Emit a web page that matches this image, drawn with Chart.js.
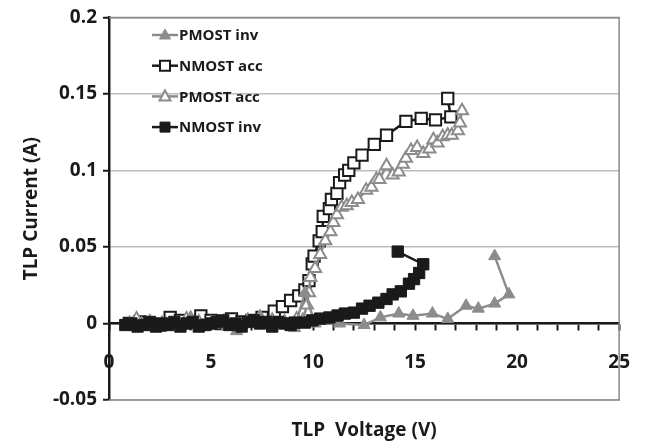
<!DOCTYPE html>
<html>
<head>
<meta charset="utf-8">
<script src="https://cdn.jsdelivr.net/npm/chart.js@4.4.0/dist/chart.umd.min.js"></script>
<style>
  html, body { margin: 0; padding: 0; background: #fff; }
</style>
</head>
<body>
<canvas id="tlpChart" width="652" height="448"></canvas>
<script>
// tick labels
const xTicks = [0, 5, 10, 15, 20, 25];
const yTicks = [-0.05, 0, 0.05, 0.1, 0.15, 0.2];

// PMOST inv (grey filled triangles)
const pmosInvV = [1.0, 1.6, 2.2, 2.8, 3.4, 4.0, 4.6, 5.2, 5.8, 6.25, 6.8, 7.4, 8.0, 8.6, 9.1, 9.6, 10.1, 11.3, 12.5, 13.3, 14.2, 14.9, 15.85, 16.6, 17.5, 18.1, 18.9, 19.6, 18.9];
const pmosInvI = [-0.001, 0.0, -0.002, 0.0, -0.001, 0.004, -0.001, 0.0, -0.002, -0.005, 0.0, 0.003, -0.001, 0.0, -0.003, 0.02, 0.0, 0.0, -0.001, 0.004, 0.0065, 0.005, 0.0065, 0.003, 0.0116, 0.0097, 0.013, 0.019, 0.044];

// NMOST acc (black open squares)
const nmosAccV = [1.0, 1.5, 2.0, 2.5, 3.0, 3.5, 4.0, 4.5, 5.0, 5.5, 6.0, 6.5, 7.0, 7.5, 8.1, 8.5, 8.9, 9.3, 9.6, 9.8, 9.96, 10.05, 10.3, 10.45, 10.5, 10.8, 10.9, 11.17, 11.3, 11.55, 11.75, 12.0, 12.4, 13.0, 13.6, 14.55, 15.3, 16.0, 16.75, 16.6];
const nmosAccI = [0.0, 0.001, 0.0, -0.001, 0.004, 0.002, 0.001, 0.005, 0.002, 0.0, 0.003, 0.001, 0.002, 0.004, 0.008, 0.011, 0.015, 0.018, 0.022, 0.028, 0.039, 0.044, 0.054, 0.06, 0.07, 0.075, 0.081, 0.085, 0.092, 0.097, 0.1, 0.105, 0.11, 0.117, 0.123, 0.132, 0.134, 0.133, 0.135, 0.147];

// PMOST acc (grey open triangles)
const pmosAccV = [1.0, 1.35, 2.0, 2.6, 3.2, 3.8, 4.4, 5.0, 5.6, 6.2, 6.8, 7.4, 8.0, 8.6, 9.2, 9.5, 9.7, 9.8, 9.87, 10.1, 10.35, 10.6, 10.85, 11.0, 11.17, 11.4, 11.65, 11.9, 12.2, 12.6, 12.86, 13.1, 13.25, 13.6, 13.9, 14.2, 14.4, 14.55, 14.8, 15.1, 15.4, 15.7, 15.9, 16.1, 16.35, 16.6, 16.8, 17.1, 17.2, 17.3];
const pmosAccI = [0.0, 0.003, 0.001, 0.0, -0.001, 0.003, 0.001, 0.0, 0.001, -0.001, 0.002, 0.004, 0.002, 0.001, 0.003, 0.002, 0.012, 0.02, 0.03, 0.036, 0.045, 0.054, 0.06, 0.066, 0.071, 0.076, 0.077, 0.079, 0.081, 0.087, 0.089, 0.094, 0.094, 0.103, 0.097, 0.099, 0.104, 0.108, 0.113, 0.115, 0.111, 0.114, 0.12, 0.118, 0.122, 0.123, 0.123, 0.126, 0.131, 0.139];

// NMOST inv (black filled squares)
const nmosInvV = [0.8, 1.1, 1.4, 1.7, 2.0, 2.3, 2.6, 2.9, 3.2, 3.5, 3.8, 4.1, 4.4, 4.7, 5.0, 5.3, 5.6, 5.9, 6.2, 6.5, 6.8, 7.1, 7.4, 7.7, 8.0, 8.3, 8.6, 8.9, 9.1, 9.6, 9.96, 10.35, 10.8, 11.2, 11.56, 12.0, 12.4, 12.77, 13.2, 13.6, 13.9, 14.3, 14.7, 14.95, 15.2, 15.4, 14.15];
const nmosInvI = [-0.001, 0.0, -0.002, -0.001, 0.001, -0.002, 0.0, -0.001, 0.001, -0.002, 0.0, 0.001, -0.002, -0.001, 0.0, 0.001, 0.002, -0.001, 0.0, -0.002, 0.001, 0.002, 0.0, 0.001, -0.002, 0.001, 0.0, -0.001, 0.0006, 0.0006, 0.002, 0.0032, 0.0039, 0.0052, 0.0065, 0.0071, 0.0097, 0.0116, 0.0136, 0.016, 0.019, 0.021, 0.026, 0.029, 0.033, 0.0387, 0.047];

const grey = "#8c8c8c";
const black = "#1a1a1a";
const fontFam = "'Open Sans', sans-serif";

function pts(xs, ys) {
  return xs.map((x, i) => ({ x, y: ys[i] }));
}

// legend drawn inside the plot, line with marker in the middle
const legendOrder = [0, 1, 2, 3];
const insideLegend = {
  id: "insideLegend",
  afterDraw(chart) {
    const ctx = chart.ctx;
    legendOrder.forEach((idx, row) => {
      const ds = chart.data.datasets[idx];
      const y = 35 + row * 30.7;
      ctx.save();
      ctx.strokeStyle = ds.borderColor;
      ctx.lineWidth = ds.borderWidth;
      ctx.beginPath();
      ctx.moveTo(152, y);
      ctx.lineTo(178, y);
      ctx.stroke();
      ctx.fillStyle = ds.pointBackgroundColor;
      ctx.strokeStyle = ds.pointBorderColor;
      ctx.lineWidth = ds.pointBorderWidth;
      ctx.beginPath();
      if (ds.pointStyle === "rect") {
        ctx.rect(165 - 5, y - 5, 10, 10);
      } else {
        ctx.moveTo(165, y - 6);
        ctx.lineTo(170.5, y + 4);
        ctx.lineTo(159.5, y + 4);
        ctx.closePath();
      }
      ctx.fill();
      ctx.stroke();
      ctx.fillStyle = black;
      ctx.font = "bold 15px " + fontFam;
      ctx.textBaseline = "middle";
      ctx.fillText(ds.label, 179, y + 1);
      ctx.restore();
    });
  }
};

// grey frame on top / right / bottom of the plot area
const plotFrame = {
  id: "plotFrame",
  beforeDatasetsDraw(chart) {
    const { ctx, chartArea: a } = chart;
    ctx.save();
    ctx.strokeStyle = "#8a8a8a";
    ctx.lineWidth = 1.5;
    ctx.beginPath();
    ctx.moveTo(a.left, a.top);
    ctx.lineTo(a.right, a.top);
    ctx.lineTo(a.right, a.bottom);
    ctx.lineTo(a.left, a.bottom);
    ctx.stroke();
    ctx.restore();
  }
};

const tickFont = { family: fontFam, size: 19, weight: "bold" };

new Chart(document.getElementById("tlpChart"), {
  type: "scatter",
  data: {
    datasets: [
      {
        label: "PMOST inv", data: pts(pmosInvV, pmosInvI), order: 1,
        showLine: true, borderColor: grey, borderWidth: 2.5,
        pointStyle: "triangle", pointRadius: 7, pointBackgroundColor: grey,
        pointBorderColor: grey, pointBorderWidth: 1
      },
      {
        label: "NMOST acc", data: pts(nmosAccV, nmosAccI), order: 3,
        showLine: true, borderColor: black, borderWidth: 2.5,
        pointStyle: "rect", pointRadius: 8, pointBackgroundColor: "#ffffff",
        pointBorderColor: black, pointBorderWidth: 2
      },
      {
        label: "PMOST acc", data: pts(pmosAccV, pmosAccI), order: 2,
        showLine: true, borderColor: grey, borderWidth: 2.5,
        pointStyle: "triangle", pointRadius: 7, pointBackgroundColor: "#ffffff",
        pointBorderColor: grey, pointBorderWidth: 2
      },
      {
        label: "NMOST inv", data: pts(nmosInvV, nmosInvI), order: 0,
        showLine: true, borderColor: black, borderWidth: 2.5,
        pointStyle: "rect", pointRadius: 8, pointBackgroundColor: black,
        pointBorderColor: black, pointBorderWidth: 1
      }
    ]
  },
  options: {
    responsive: false,
    animation: false,
    layout: { padding: { top: 13, right: 27, bottom: 2, left: 0 } },
    plugins: { legend: { display: false }, tooltip: { enabled: false } },
    scales: {
      x: {
        type: "linear", position: "bottom", min: 0, max: 25,
        ticks: { display: false },
        grid: { display: false },
        border: { display: false },
        title: {
          display: true, text: "TLP  Voltage (V)", color: black,
          font: tickFont, padding: { top: 0, bottom: 4 }
        },
        afterFit: s => { s.height = 46; }
      },
      x2: {
        type: "linear", axis: "x", position: { y: 0 }, min: 0, max: 25,
        ticks: {
          stepSize: 1, autoSkip: false, maxRotation: 0, padding: 22,
          color: black, font: tickFont,
          callback: v => (xTicks.includes(v) ? String(v) : "")
        },
        grid: { drawOnChartArea: false, tickLength: 6, tickWidth: 2, tickColor: black, color: black },
        border: { color: black, width: 2.5 },
        afterFit: s => { s.height = 0; }
      },
      y: {
        min: -0.05, max: 0.2,
        afterBuildTicks: s => { s.ticks = yTicks.map(v => ({ value: v })); },
        ticks: {
          padding: 6, color: black, font: tickFont,
          callback: v => String(Number(v.toFixed(2)))
        },
        grid: {
          color: ctx => (ctx.tick && ctx.tick.value === 0.2 ? "#8a8a8a" : "#bdbdbd"),
          lineWidth: 1.5, tickColor: black, tickLength: 6, tickWidth: 2
        },
        border: { color: black, width: 2.5 },
        title: {
          display: true, text: "TLP Current (A)", color: black,
          font: tickFont, padding: { top: 20, bottom: 0 }
        },
        afterFit: s => { s.width = 109; }
      }
    }
  },
  plugins: [plotFrame, insideLegend]
});
</script>
</body>
</html>
